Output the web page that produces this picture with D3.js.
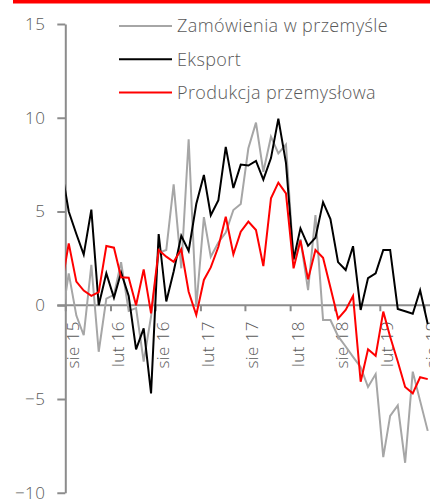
<!DOCTYPE html>
<html>
<head>
<meta charset="utf-8">
<script src="https://cdn.jsdelivr.net/npm/d3@7"></script>
<style>
  body { margin: 0; background: #fff; }
  svg text { font-family: "Open Sans", sans-serif; font-weight: 300; fill: #595959; }
</style>
</head>
<body>
<div id="chart"></div>
<script>
// monthly data, Jul 2015 .. Aug 2019 (first month sits left of the axis and is clipped)
const startMonth = new Date(2015, 6, 1)
const endMonth = new Date(2019, 8, 1)

const zamowienia = [-1.0, 1.7, -0.55, -1.6, 2.15, -2.48, 0.35, 0.55, 2.3, -0.3, -0.15, -3.0, -0.6, 2.8, 2.95, 6.45, 1.97, 8.85, -0.08, 4.7, 2.59, 3.35, 3.88, 5.08, 5.4, 8.37, 9.74, 7.12, 8.99, 8.1, 8.57, 2.4, 3.52, 0.81, 4.81, -0.79, -0.79, -1.65, -2.2, -2.75, -3.3, -4.36, -3.67, -8.1, -5.9, -5.34, -8.4, -3.54, -5.1, -6.7]
const eksport = [7.4, 5.0, 3.8, 2.7, 5.1, 0.0, 1.7, 0.4, 1.75, 0.5, -2.35, -1.23, -4.7, 3.8, 0.2, 1.8, 3.7, 2.9, 5.4, 6.95, 4.8, 5.6, 8.45, 6.25, 7.5, 7.45, 7.7, 6.7, 7.85, 9.95, 7.6, 2.45, 4.1, 3.17, 3.6, 5.5, 4.6, 2.3, 1.88, 3.15, -0.25, 1.45, 1.7, 2.95, 2.95, -0.2, -0.32, -0.45, 0.8, -1.0]
const produkcja = [0.9, 3.3, 1.26, 0.78, 0.5, 0.7, 3.16, 3.07, 1.49, 1.47, 0.0, 1.91, -0.43, 2.95, 2.59, 2.32, 2.98, 0.72, -0.52, 1.35, 2.02, 3.12, 4.72, 2.72, 3.92, 4.46, 4.01, 2.09, 5.7, 6.54, 5.97, 1.97, 3.46, 1.38, 2.95, 2.53, 0.95, -0.72, -0.25, 0.49, -4.08, -2.35, -2.7, -0.34, -1.68, -3.0, -4.36, -4.7, -3.84, -3.94]

const seriesNames = ["Zamówienia w przemyśle", "Eksport", "Produkcja przemysłowa"]
const seriesColors = ["#a6a6a6", "#000000", "#ff0000"]

const yTicks = [-10, -5, 0, 5, 10, 15]
const xTickLabels = ["sie 15", "lut 16", "sie 16", "lut 17", "sie 17", "lut 18", "sie 18", "lut 19", "sie 19"]

const width = 430, height = 499

const months = d3.timeMonths(startMonth, endMonth)
const dates = months.map(m => d3.timeDay.offset(m, 14))
const xTickDates = d3.timeMonth.range(new Date(2015, 7, 1), new Date(2019, 8, 1), 6)

const x = d3.scaleTime()
  .domain([new Date(2015, 7, 1), new Date(2019, 7, 1)])
  .range([65.3, 424.3])
const y = d3.scaleLinear()
  .domain([-10, 15])
  .range([492.75, 24])

const svg = d3.select("#chart")
  .append("svg")
  .attr("width", width)
  .attr("height", height)

svg.append("rect")
  .attr("x", 13)
  .attr("y", 0)
  .attr("width", width - 13)
  .attr("height", 3.5)
  .attr("fill", "#ff0000")

svg.append("clipPath")
  .attr("id", "plot-clip")
  .append("rect")
  .attr("x", x.range()[0])
  .attr("y", 0)
  .attr("width", width - x.range()[0])
  .attr("height", height)

// y axis
const yAxis = svg.append("g")
  .attr("transform", `translate(${x.range()[0]},0)`)
  .call(d3.axisLeft(y).tickValues(yTicks).tickSize(8).tickSizeOuter(0).tickPadding(12))
yAxis.select(".domain").attr("stroke", "#8c8c8c").attr("stroke-width", 2)
yAxis.selectAll(".tick line").attr("stroke", "#8c8c8c").attr("stroke-width", 2)
yAxis.selectAll(".tick text")
  .attr("font-size", 17)
  .attr("letter-spacing", 0.4)
  .attr("fill", "#595959")
  .style("font-family", null)

// x axis on zero
const xAxis = svg.append("g")
  .attr("transform", `translate(0,${y(0)})`)
  .call(d3.axisBottom(x).tickValues(xTickDates).tickSize(6).tickSizeOuter(0)
    .tickFormat((d, i) => xTickLabels[i]))
xAxis.select(".domain").attr("d", `M${x.range()[0] - 8},0H${width}`)
  .attr("stroke", "#8c8c8c").attr("stroke-width", 2)
xAxis.selectAll(".tick line").attr("stroke", "#8c8c8c").attr("stroke-width", 2)
xAxis.selectAll(".tick text")
  .attr("font-size", 17)
  .attr("letter-spacing", 0.4)
  .attr("fill", "#595959")
  .attr("text-anchor", "end")
  .attr("transform", "rotate(-90)")
  .attr("x", -16)
  .attr("y", 13)
  .attr("dy", 0)

// lines
const line = d3.line()
  .x((d, i) => x(dates[i]))
  .y(d => y(d))

const lines = svg.append("g").attr("clip-path", "url(#plot-clip)")
;[zamowienia, eksport, produkcja].forEach((values, i) => {
  lines.append("path")
    .datum(values)
    .attr("d", line)
    .attr("fill", "none")
    .attr("stroke", seriesColors[i])
    .attr("stroke-width", 2)
    .attr("stroke-linejoin", "miter")
})

// legend
const legend = svg.append("g")
  .selectAll("g")
  .data(seriesNames)
  .join("g")
  .attr("transform", (d, i) => `translate(119,${26 + i * 33.3})`)
legend.append("line")
  .attr("x1", 0).attr("x2", 53)
  .attr("stroke", (d, i) => seriesColors[i])
  .attr("stroke-width", 2)
legend.append("text")
  .attr("x", 58)
  .attr("dy", "0.35em")
  .attr("font-size", 18)
  .attr("letter-spacing", 0.4)
  .text(d => d)
</script>
</body>
</html>
